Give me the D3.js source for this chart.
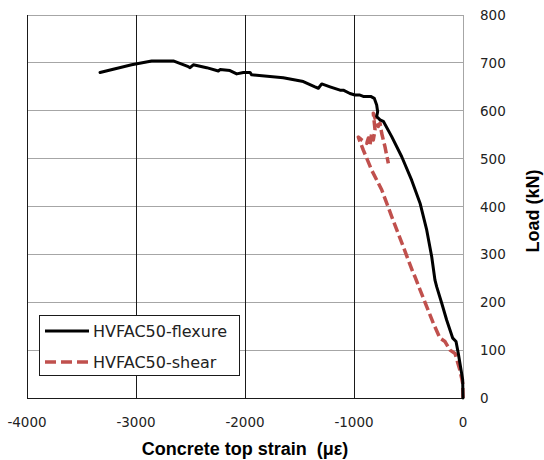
<!DOCTYPE html>
<html><head><meta charset="utf-8">
<script src="https://cdn.jsdelivr.net/npm/d3@7"></script>
<style>body{margin:0;background:#fff}svg{display:block}text{white-space:pre}</style>
</head><body>
<svg id="c" width="544" height="460"></svg>
<script>
const xTicks = [-4000, -3000, -2000, -1000, 0];
const yTicks = [0, 100, 200, 300, 400, 500, 600, 700, 800];
const seriesNames = ["HVFAC50-flexure", "HVFAC50-shear"];
const flexStrain = [-3330,-3040,-2856,-2658,-2520,-2504,-2474,-2352,-2245,-2229,-2138,-2076,-2015,-1954,-1939,-1649,-1465,-1358,-1327,-1296,-1220,-1128,-1098,-1037,-991,-951,-915,-847,-814,-792,-783,-792,-761,-731,-654,-562,-471,-394,-333,-287,-257,-241,-195,-150,-94,-64,-43,-3,0];
const flexLoad   = [680,696,704,704,692,690,696,690,683,686,684,677,680,680,675,669,661,650,647,656,650,643,643,636,633,633,630,630,626,612,598,588,581,578,546,504,455,407,351,295,246,232,198,163,125,118,93,38,0];
const shearStrain = [0,-3,-28,-73,-119,-165,-211,-272,-333,-394,-440,-455,-548,-654,-746,-838,-915,-951,-960,-929,-883,-868,-853,-838,-823,-807,-823,-792,-777,-761,-746,-716,-685];
const shearLoad   = [0,31,58,93,100,118,125,156,191,226,253,260,316,379,435,476,518,539,545,539,532,543,529,553,539,560,595,574,567,574,553,525,490];

const svg = d3.select("#c");
const L = 27, R = 463, T = 15, B = 398;
const x = d3.scaleLinear().domain([-4000, 0]).range([L, R]);
const y = d3.scaleLinear().domain([0, 800]).range([B, T]);
const font = "'DejaVu Sans', Verdana, sans-serif";
const bfont = "'Liberation Sans', Arial, sans-serif";

svg.append("g").selectAll("line").data(yTicks.filter(v => v > 0)).join("line")
  .attr("x1", L).attr("x2", R).attr("y1", d => y(d)).attr("y2", d => y(d))
  .attr("stroke", "#a6a6a6").attr("stroke-width", 1).attr("shape-rendering", "crispEdges");
svg.append("line").attr("x1", R).attr("x2", R).attr("y1", T).attr("y2", B)
  .attr("stroke", "#a6a6a6").attr("shape-rendering", "crispEdges");
svg.append("g").selectAll("line").data(xTicks.filter(v => v > -4000 && v < 0)).join("line")
  .attr("x1", d => x(d)).attr("x2", d => x(d)).attr("y1", T).attr("y2", B)
  .attr("stroke", "#1a1a1a").attr("stroke-width", 1).attr("shape-rendering", "crispEdges");
svg.append("line").attr("x1", L).attr("x2", L).attr("y1", T).attr("y2", B)
  .attr("stroke", "#1a1a1a").attr("shape-rendering", "crispEdges");
svg.append("line").attr("x1", L).attr("x2", R).attr("y1", B).attr("y2", B)
  .attr("stroke", "#1a1a1a").attr("shape-rendering", "crispEdges");

svg.append("g").selectAll("text").data(xTicks).join("text")
  .attr("x", d => x(d)).attr("y", 427).attr("text-anchor", "middle")
  .attr("font-family", font).attr("font-size", 13.5).attr("fill", "#222")
  .text(d => d);
svg.append("g").selectAll("text").data(yTicks).join("text")
  .attr("x", 480).attr("y", d => y(d) + 5).attr("text-anchor", "start")
  .attr("font-family", font).attr("font-size", 13.5).attr("fill", "#222")
  .text(d => d);

svg.append("text").attr("x", 245).attr("y", 455).attr("text-anchor", "middle")
  .attr("font-family", bfont).attr("font-size", 18).attr("font-weight", "bold")
  .attr("fill", "#000").text("Concrete top strain  (με)");
svg.append("text").attr("transform", "translate(539,211) rotate(-90)").attr("text-anchor", "middle")
  .attr("font-family", bfont).attr("font-size", 18).attr("font-weight", "bold")
  .attr("fill", "#000").text("Load (kN)");

const line = d3.line().x(d => x(d[0])).y(d => y(d[1]));
svg.append("path").datum(d3.zip(shearStrain, shearLoad)).attr("d", line)
  .attr("fill", "none").attr("stroke", "#c0504d").attr("stroke-width", 3.5)
  .attr("stroke-dasharray", "10,4").attr("stroke-linejoin", "round");
svg.append("path").datum(d3.zip(flexStrain, flexLoad)).attr("d", line)
  .attr("fill", "none").attr("stroke", "#000").attr("stroke-width", 3)
  .attr("stroke-linejoin", "round").attr("stroke-linecap", "round");

const lg = svg.append("g");
lg.append("rect").attr("x", 39.5).attr("y", 315.5).attr("width", 200).attr("height", 60)
  .attr("fill", "#fff").attr("stroke", "#1a1a1a").attr("stroke-width", 1);
const styles = [{c: "#000", w: 3, d: null}, {c: "#c0504d", w: 3.5, d: "11,5"}];
seriesNames.forEach((n, i) => {
  const yy = 331 + i * 31;
  lg.append("line").attr("x1", 45).attr("x2", 89).attr("y1", yy).attr("y2", yy)
    .attr("stroke", styles[i].c).attr("stroke-width", styles[i].w)
    .attr("stroke-dasharray", styles[i].d);
  lg.append("text").attr("x", 93).attr("y", yy + 6)
    .attr("font-family", font).attr("font-size", 16).attr("fill", "#222").text(n);
});
</script>
</body></html>
